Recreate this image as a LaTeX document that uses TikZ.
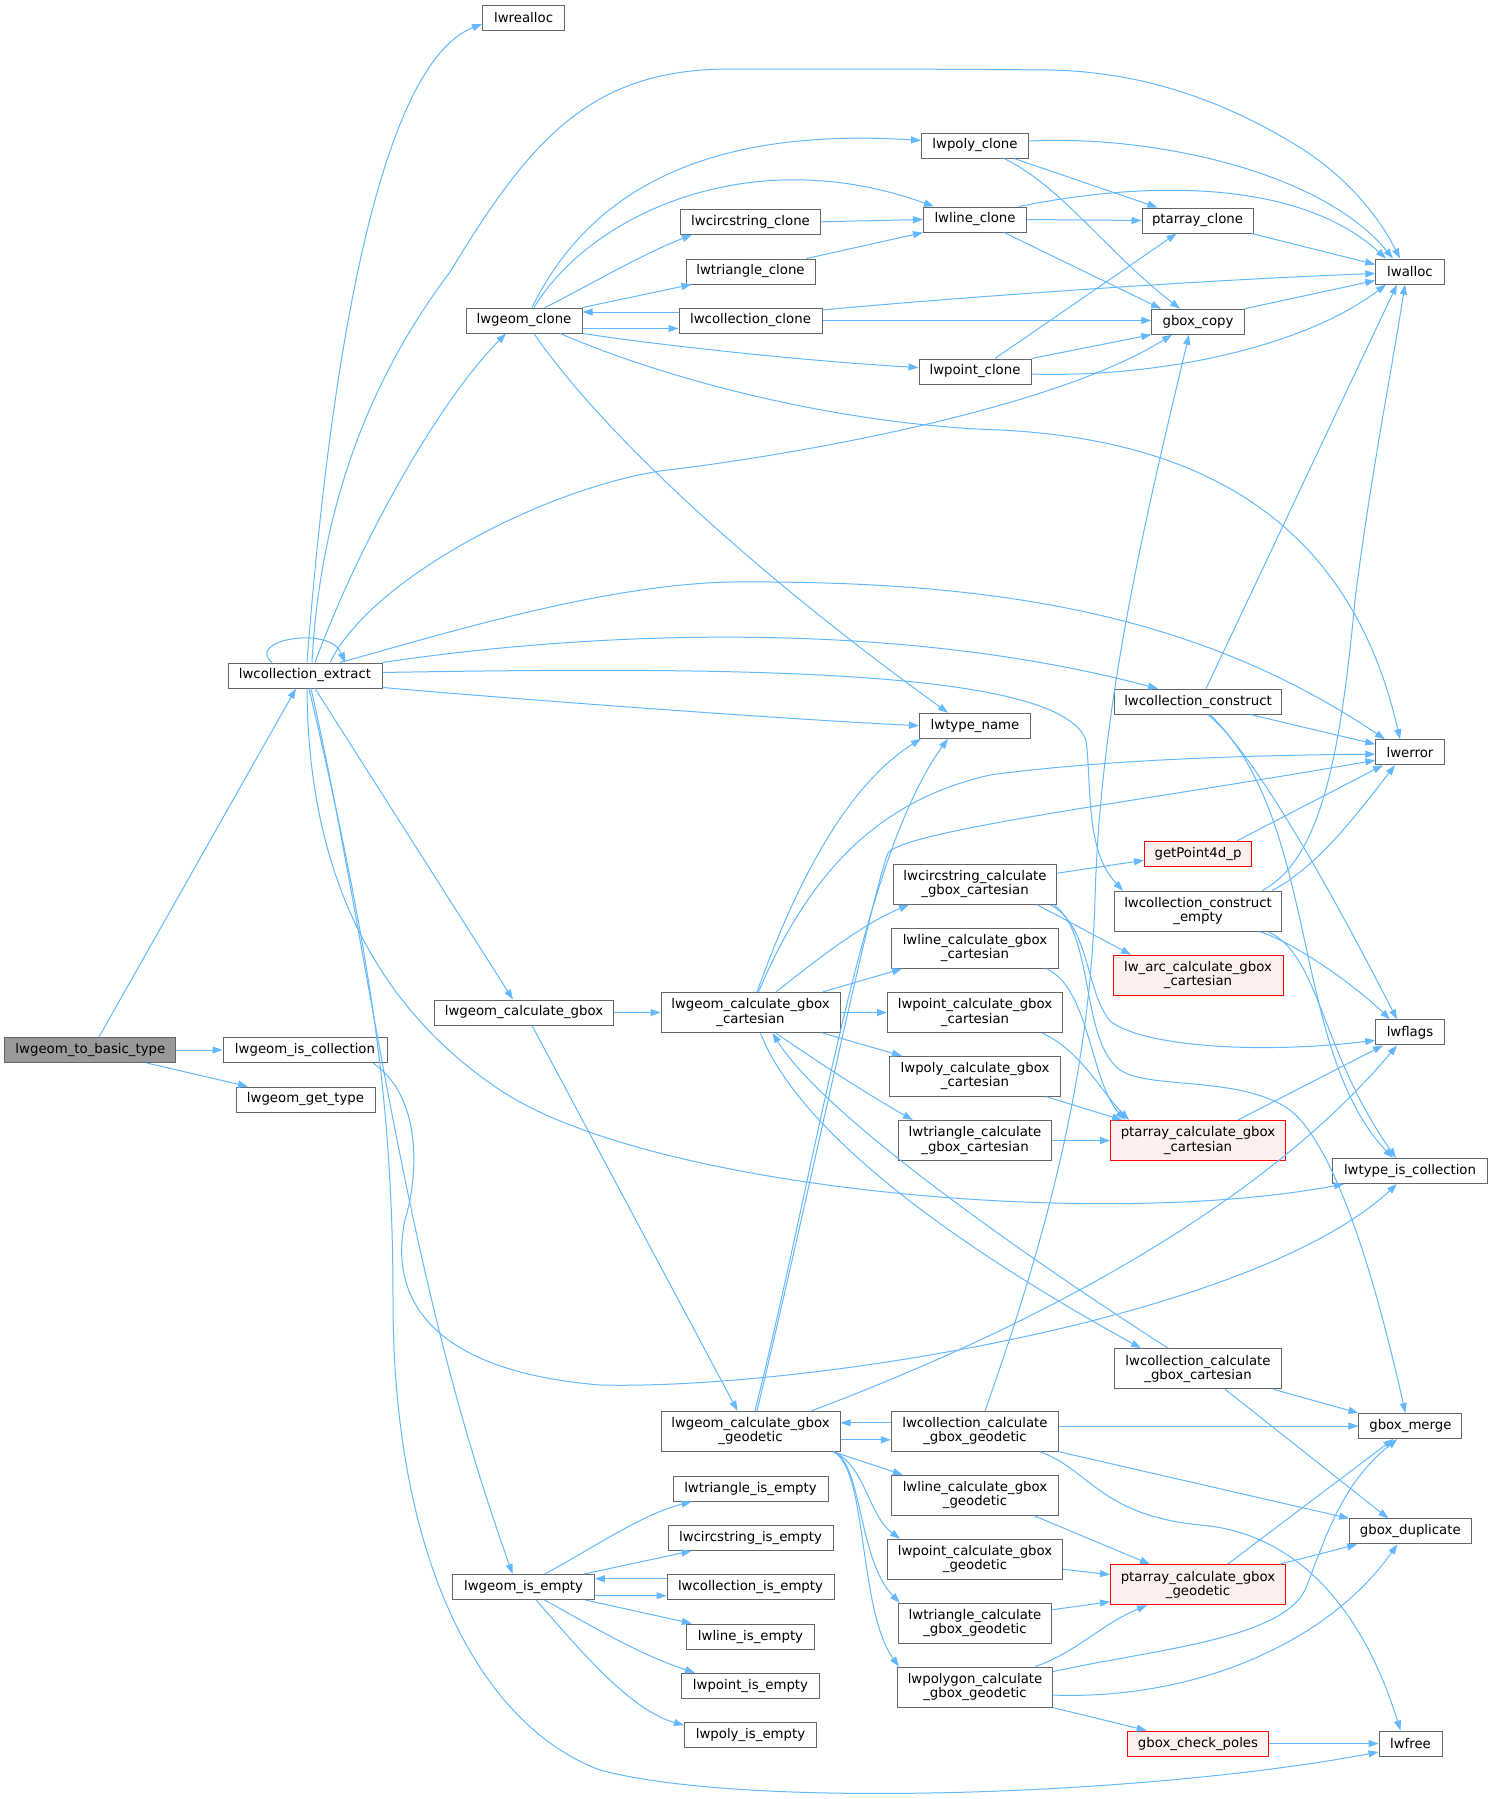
\documentclass[tikz,border=0pt]{standalone}
\usepackage{fontspec}
\setmainfont{DejaVu Sans}
\usetikzlibrary{arrows.meta,calc}
\definecolor{edgec}{HTML}{63B8FF}
\definecolor{bordc}{HTML}{666666}
\definecolor{rootf}{HTML}{999999}
\definecolor{redf}{HTML}{FFF0F0}
\begin{document}
\begin{tikzpicture}[x=1pt,y=-1pt,
 nd/.style={draw=bordc,line width=1pt,fill=white,inner sep=0pt,minimum height=25pt,align=center,font=\fontsize{13.3}{14.2}\selectfont},
 nd2/.style={nd,minimum height=40pt},
 redb/.style={draw=red,fill=redf},
 ar/.style={draw=edgec,line width=1pt,-{Triangle[length=10pt,width=7pt]}}]
\useasboundingbox (0,0) rectangle (1493,1799);
% nodes
\node[nd,fill=rootf,minimum width=171pt] (basic) at (90.4,1050) {lwgeom\_to\_basic\_type};
\node[nd,minimum width=164pt] (iscoll) at (305,1050) {lwgeom\_is\_collection};
\node[nd,minimum width=139pt] (gettype) at (305.5,1099.5) {lwgeom\_get\_type};
\node[nd,minimum width=154pt] (extract) at (305,675.5) {lwcollection\_extract};
\node[nd,minimum width=82pt] (realloc) at (523.6,17.5) {lwrealloc};
\node[nd,minimum width=116pt] (gclone) at (524,320.5) {lwgeom\_clone};
\node[nd,minimum width=107pt] (polyclone) at (975,145.5) {lwpoly\_clone};
\node[nd,minimum width=103pt] (lineclone) at (975,219.5) {lwline\_clone};
\node[nd,minimum width=140pt] (circclone) at (750.5,221.8) {lwcircstring\_clone};
\node[nd,minimum width=129pt] (triclone) at (750.5,271.5) {lwtriangle\_clone};
\node[nd,minimum width=143pt] (collclone) at (750.5,320.5) {lwcollection\_clone};
\node[nd,minimum width=112pt] (pointclone) at (975,371.5) {lwpoint\_clone};
\node[nd,minimum width=111pt] (ptclone) at (1197.5,220.5) {ptarray\_clone};
\node[nd,minimum width=68.5pt] (lwalloc) at (1410,271.5) {lwalloc};
\node[nd,minimum width=92.5pt] (gboxcopy) at (1198,321.7) {gbox\_copy};
\node[nd,minimum width=111pt] (typename) at (975,725.7) {lwtype\_name};
\node[nd,minimum width=179pt] (calcgbox) at (524,1012.5) {lwgeom\_calculate\_gbox};
\node[nd2,minimum width=179pt] (calccart) at (750.5,1012.5) {lwgeom\_calculate\_gbox\\\_cartesian};
\node[nd2,minimum width=163pt] (circcart) at (975,884.2) {lwcircstring\_calculate\\\_gbox\_cartesian};
\node[nd2,minimum width=167pt] (linecart) at (975,948.3) {lwline\_calculate\_gbox\\\_cartesian};
\node[nd2,minimum width=175pt] (pointcart) at (975,1012.5) {lwpoint\_calculate\_gbox\\\_cartesian};
\node[nd2,minimum width=171pt] (polycart) at (975,1076.4) {lwpoly\_calculate\_gbox\\\_cartesian};
\node[nd2,minimum width=153.5pt] (tricart) at (975,1140.5) {lwtriangle\_calculate\\\_gbox\_cartesian};
\node[nd,minimum width=167pt] (collconstruct) at (1198,701.7) {lwcollection\_construct};
\node[nd,minimum width=68.5pt] (lwerror) at (1410,752.2) {lwerror};
\node[nd,redb,minimum width=107pt] (getpoint) at (1198,853.8) {getPoint4d\_p};
\node[nd2,minimum width=167pt] (constructempty) at (1198,911.2) {lwcollection\_construct\\\_empty};
\node[nd2,redb,minimum width=170pt] (arccart) at (1198,975.2) {lw\_arc\_calculate\_gbox\\\_cartesian};
\node[nd,minimum width=68.5pt] (lwflags) at (1410,1032.4) {lwflags};
\node[nd2,redb,minimum width=175pt] (ptcart) at (1198,1140.5) {ptarray\_calculate\_gbox\\\_cartesian};
\node[nd,minimum width=155pt] (typeiscoll) at (1410,1171) {lwtype\_is\_collection};
\node[nd2,minimum width=179pt] (calcgeo) at (750.5,1431.3) {lwgeom\_calculate\_gbox\\\_geodetic};
\node[nd2,minimum width=167.5pt] (collgeo) at (975,1431.3) {lwcollection\_calculate\\\_gbox\_geodetic};
\node[nd2,minimum width=167.5pt] (linegeo) at (975,1495.3) {lwline\_calculate\_gbox\\\_geodetic};
\node[nd2,minimum width=175pt] (pointgeo) at (975,1559.2) {lwpoint\_calculate\_gbox\\\_geodetic};
\node[nd2,minimum width=153.5pt] (trigeo) at (975,1623.2) {lwtriangle\_calculate\\\_gbox\_geodetic};
\node[nd2,minimum width=155pt] (polygeo) at (975,1687.1) {lwpolygon\_calculate\\\_gbox\_geodetic};
\node[nd,minimum width=155pt] (triempty) at (750.5,1488.5) {lwtriangle\_is\_empty};
\node[nd,minimum width=165pt] (circempty) at (750.5,1537.9) {lwcircstring\_is\_empty};
\node[nd,minimum width=167pt] (collempty) at (750.5,1587) {lwcollection\_is\_empty};
\node[nd,minimum width=141.7pt] (isempty) at (523.6,1587) {lwgeom\_is\_empty};
\node[nd,minimum width=128.4pt] (lineempty) at (750.5,1636.5) {lwline\_is\_empty};
\node[nd,minimum width=138pt] (pointempty) at (750.5,1685.7) {lwpoint\_is\_empty};
\node[nd,minimum width=132pt] (polyempty) at (750.5,1735.2) {lwpoly\_is\_empty};
\node[nd2,minimum width=167pt] (collcart) at (1198,1368.7) {lwcollection\_calculate\\\_gbox\_cartesian};
\node[nd,minimum width=103pt] (gboxmerge) at (1410.4,1426) {gbox\_merge};
\node[nd,minimum width=121.4pt] (gboxdup) at (1410.3,1531.4) {gbox\_duplicate};
\node[nd2,redb,minimum width=175pt] (ptgeo) at (1198,1584.7) {ptarray\_calculate\_gbox\\\_geodetic};
\node[nd,redb,minimum width=141.6pt] (checkpoles) at (1198,1743.5) {gbox\_check\_poles};
\node[nd,minimum width=63pt] (lwfree) at (1410.5,1743.5) {lwfree};
% edges
\draw[ar] ($(basic.north)+(8.6,0)$) -- ($(extract.south)+(-9,0)$);
\draw[ar] (basic.east) -- (iscoll.west);
\draw[ar] ($(basic.south)+(56.3,0)$) -- ($(gettype.north)+(-57.5,0)$);
\draw[ar] ($(extract.north)+(-33,0)$) .. controls (245,640) and (330,625) .. ($(extract.north)+(40,0)$);
\draw[ar] ($(extract.north)+(2,0)$) .. controls (335,300) and (390,60) .. ($(realloc.west)+(0,6.5)$);
\draw[ar] ($(extract.north)+(7,0)$) .. controls (322,470) and (395,345) .. (450,272) .. controls (530,140) and (590,69) .. (730,69) .. controls (850,69) and (950,69) .. (1050,70) .. controls (1150,72) and (1230,105) .. (1296,145) .. controls (1345,175) and (1378,215) .. ($(lwalloc.north)+(-10,0)$);
\draw[ar] ($(extract.north)+(10,0)$) .. controls (360,540) and (440,400) .. ($(gclone.south)+(-18,0)$);
\draw[ar] ($(extract.north)+(25,0)$) .. controls (370,580) and (540,490) .. (660,471) .. controls (820,452) and (1060,405) .. ($(gboxcopy.south)+(-26,0)$);
\draw[ar] ($(extract.north)+(35,0)$) .. controls (440,635) and (600,585) .. (730,582) .. controls (1000,580) and (1200,615) .. ($(lwerror.north)+(-25,0)$);
\draw[ar] (extract.north east) .. controls (600,630) and (900,620) .. ($(collconstruct.north)+(-40,0)$);
\draw[ar] ($(extract.east)+(0,-3)$) .. controls (750,666) and (1060,670) .. (1086,740) .. controls (1092,790) and (1085,850) .. ($(constructempty.north)+(-75,0)$);
\draw[ar] ($(extract.east)+(0,12)$) .. controls (550,702) and (800,720) .. (typename.west);
\draw[ar] ($(extract.south)+(10,0)$) -- ($(calcgbox.north)+(-11,0)$);
\draw[ar] ($(extract.south)+(2,0)$) .. controls (308,880) and (380,1010) .. (500,1090) .. controls (650,1190) and (1100,1230) .. ($(typeiscoll.south west)+(12,0)$);
\draw[ar] ($(extract.south)+(6,0)$) .. controls (370,950) and (400,1260) .. ($(isempty.north)+(-11,0)$);
\draw[ar] ($(extract.south)+(4,0)$) .. controls (370,950) and (393,1100) .. (393,1300) .. controls (393,1560) and (480,1725) .. (600,1770) .. controls (750,1810) and (1150,1795) .. ($(lwfree.west)+(0,8.5)$);
\draw[ar] ($(iscoll.south)+(68,0)$) .. controls (420,1095) and (420,1170) .. (405,1220) .. controls (390,1290) and (420,1370) .. (600,1385) .. controls (800,1390) and (1250,1320) .. ($(typeiscoll.south)+(-13,0)$);
\draw[ar] ($(gclone.north)+(8,0)$) .. controls (580,210) and (680,125) .. ($(polyclone.west)+(0,-5)$);
\draw[ar] ($(gclone.north)+(10,0)$) .. controls (590,215) and (750,140) .. ($(lineclone.north)+(-41,0)$);
\draw[ar] ($(gclone.north)+(21,0)$) .. controls (590,285) and (640,255) .. ($(circclone.south west)+(12,0)$);
\draw[ar] (gclone.north east) -- ($(triclone.south west)+(6,0)$);
\draw[ar] ($(collclone.west)+(0,-8.5)$) -- ($(gclone.east)+(0,-8.5)$);
\draw[ar] ($(gclone.east)+(0,8)$) -- ($(collclone.west)+(0,8)$);
\draw[ar] (gclone.south east) .. controls (680,348) and (820,362) .. ($(pointclone.west)+(0,-4)$);
\draw[ar] ($(gclone.south)+(36,0)$) .. controls (680,385) and (850,425) .. (1000,430) .. controls (1200,440) and (1350,520) .. ($(lwerror.north)+(-10,0)$);
\draw[ar] ($(gclone.south)+(10,0)$) .. controls (600,430) and (750,570) .. ($(typename.north)+(-27,0)$);
\draw[ar] ($(collclone.east)+(0,-10.5)$) .. controls (950,298) and (1200,280) .. ($(lwalloc.west)+(0,2)$);
\draw[ar] (collclone.east) -- (collclone.east -| gboxcopy.west);
\draw[ar] (circclone.east) -- (lineclone.west);
\draw[ar] ($(triclone.north east)+(-9,0)$) -- (lineclone.south west);
\draw[ar] ($(polyclone.east)+(0,-4.5)$) .. controls (1150,135) and (1320,170) .. ($(lwalloc.north)+(-17,0)$);
\draw[ar] ($(polyclone.south)+(39,0)$) -- ($(ptclone.north)+(-40,0)$);
\draw[ar] ($(polyclone.south)+(29,0)$) .. controls (1060,185) and (1110,255) .. ($(gboxcopy.north)+(-18,0)$);
\draw[ar] ($(lineclone.north)+(44,0)$) .. controls (1150,180) and (1300,180) .. ($(lwalloc.north)+(-24,0)$);
\draw[ar] (lineclone.east) -- (ptclone.west);
\draw[ar] ($(lineclone.south)+(29,0)$) -- ($(gboxcopy.north)+(-37,0)$);
\draw[ar] ($(pointclone.north)+(20,0)$) -- ($(ptclone.south)+(-21,0)$);
\draw[ar] (pointclone.north east) -- (gboxcopy.south west);
\draw[ar] ($(pointclone.east)+(0,2.5)$) .. controls (1150,378) and (1300,350) .. ($(lwalloc.south)+(-24,0)$);
\draw[ar] ($(ptclone.south east)+(-2,0)$) -- ($(lwalloc.west)+(0,-7)$);
\draw[ar] (gboxcopy.north east) -- ($(lwalloc.west)+(0,9)$);
\draw[ar] ($(collconstruct.north)+(8,0)$) -- ($(lwalloc.south)+(-13,0)$);
\draw[ar] ($(collconstruct.south)+(53,0)$) -- ($(lwerror.west)+(0,-8)$);
\draw[ar] ($(collconstruct.south)+(10,0)$) .. controls (1240,740) and (1300,830) .. ($(lwflags.north)+(-13,0)$);
\draw[ar] ($(collconstruct.south)+(12,0)$) .. controls (1320,820) and (1290,1050) .. ($(typeiscoll.north)+(-17,0)$);
\draw[ar] ($(constructempty.north)+(64,0)$) .. controls (1320,860) and (1340,760) .. (1355,600) .. controls (1370,480) and (1390,380) .. ($(lwalloc.south)+(-5,0)$);
\draw[ar] ($(constructempty.north)+(74,0)$) .. controls (1320,865) and (1360,810) .. ($(lwerror.south)+(-15,0)$);
\draw[ar] ($(constructempty.south)+(62,0)$) .. controls (1300,945) and (1360,990) .. ($(lwflags.north)+(-20,0)$);
\draw[ar] ($(constructempty.south)+(70,0)$) .. controls (1320,955) and (1320,1050) .. ($(typeiscoll.north)+(-14,0)$);
\draw[ar] ($(getpoint.north)+(39,0)$) -- ($(lwerror.south)+(-27,0)$);
\draw[ar] (calcgbox.east) -- (calccart.west);
\draw[ar] ($(calcgbox.south)+(8,0)$) -- ($(calcgeo.north)+(-13,0)$);
\draw[ar] ($(calccart.north)+(6.5,0)$) .. controls (790,900) and (840,790) .. ($(typename.south west)+(2,0)$);
\draw[ar] ($(calccart.north)+(8,0)$) .. controls (810,870) and (880,800) .. (990,775) .. controls (1100,760) and (1250,755) .. ($(lwerror.west)+(0,2)$);
\draw[ar] ($(calccart.north)+(25.5,0)$) .. controls (810,965) and (860,925) .. ($(circcart.south west)+(16,0)$);
\draw[ar] ($(calccart.north east)+(-18,0)$) -- ($(linecart.south west)+(11,0)$);
\draw[ar] (calccart.east) -- (pointcart.west);
\draw[ar] ($(calccart.south east)+(-18,0)$) -- ($(polycart.north west)+(13,0)$);
\draw[ar] ($(calccart.south)+(25.5,0)$) .. controls (800,1050) and (860,1090) .. ($(tricart.north west)+(15,0)$);
\draw[ar] ($(calccart.south)+(10,0)$) .. controls (790,1110) and (900,1215) .. ($(collcart.north)+(-57,0)$);
\draw[ar] ($(collcart.north)+(-30,0)$) .. controls (1000,1240) and (820,1110) .. ($(calccart.south)+(22,0)$);
\draw[ar] ($(collcart.south east)+(-9,0)$) -- (gboxmerge.north west);
\draw[ar] ($(collcart.south)+(27,0)$) -- ($(gboxdup.north)+(-22,0)$);
\draw[ar] ($(circcart.east)+(0,-11)$) -- ($(getpoint.west)+(0,6.5)$);
\draw[ar] ($(circcart.south east)+(-20,0)$) -- ($(arccart.north)+(-67,0)$);
\draw[ar] ($(circcart.south east)+(-7,0)$) .. controls (1090,925) and (1085,990) .. (1110,1021) .. controls (1140,1045) and (1250,1055) .. ($(lwflags.west)+(0,8)$);
\draw[ar] ($(circcart.south east)+(-3,0)$) .. controls (1095,935) and (1080,1040) .. (1120,1070) .. controls (1150,1090) and (1240,1075) .. (1290,1110) .. controls (1340,1150) and (1380,1300) .. ($(gboxmerge.north)+(-5,0)$);
\draw[ar] ($(linecart.south east)+(-12,0)$) .. controls (1090,990) and (1090,1080) .. ($(ptcart.north west)+(15,0)$);
\draw[ar] ($(pointcart.south east)+(-21,0)$) .. controls (1080,1050) and (1100,1090) .. ($(ptcart.north west)+(19,0)$);
\draw[ar] ($(polycart.south east)+(-14,0)$) -- ($(ptcart.north west)+(12,0)$);
\draw[ar] (tricart.east) -- (ptcart.west);
\draw[ar] ($(ptcart.north east)+(-48,0)$) -- ($(lwflags.south)+(-27,0)$);
\draw[ar] ($(calcgeo.north)+(4.5,0)$) .. controls (820,1150) and (860,860) .. ($(typename.south)+(-27,0)$);
\draw[ar] ($(calcgeo.north)+(6.5,0)$) .. controls (810,1190) and (870,900) .. (888,853) .. controls (905,830) and (1150,800) .. ($(lwerror.west)+(0,8)$);
\draw[ar] ($(calcgeo.north east)+(-29,0)$) .. controls (1000,1340) and (1250,1220) .. ($(lwflags.south)+(-13,0)$);
\draw[ar] ($(calcgeo.east)+(0,8.5)$) -- ($(collgeo.west)+(0,8.5)$);
\draw[ar] ($(collgeo.west)+(0,-8.5)$) -- ($(calcgeo.east)+(0,-8.5)$);
\draw[ar] ($(calcgeo.south east)+(-7,0)$) -- ($(linegeo.north west)+(12,0)$);
\draw[ar] ($(calcgeo.south east)+(-7,0)$) .. controls (865,1465) and (868,1515) .. ($(pointgeo.north west)+(13,0)$);
\draw[ar] ($(calcgeo.south east)+(-7,0)$) .. controls (862,1462) and (858,1560) .. ($(trigeo.north west)+(2,0)$);
\draw[ar] ($(calcgeo.south east)+(-7,0)$) .. controls (868,1470) and (858,1610) .. ($(polygeo.north west)+(2,0)$);
\draw[ar] ($(collgeo.north)+(10,0)$) .. controls (1060,1200) and (1090,1050) .. (1095,900) .. controls (1100,700) and (1150,500) .. ($(gboxcopy.south)+(-9,0)$);
\draw[ar] ($(collgeo.east)+(0,-5.3)$) -- (gboxmerge.west);
\draw[ar] (collgeo.south east) -- (gboxdup.north west);
\draw[ar] ($(collgeo.south east)+(-19,0)$) .. controls (1090,1470) and (1100,1515) .. (1200,1525) .. controls (1290,1532) and (1360,1600) .. ($(lwfree.north)+(-10,0)$);
\draw[ar] ($(linegeo.south east)+(-25,0)$) -- ($(ptgeo.north west)+(40,0)$);
\draw[ar] ($(pointgeo.east)+(0,10)$) -- ($(ptgeo.west)+(0,-10)$);
\draw[ar] ($(trigeo.east)+(0,-13.5)$) -- ($(ptgeo.west)+(0,17)$);
\draw[ar] ($(polygeo.north east)+(-17.5,0)$) .. controls (1080,1650) and (1100,1625) .. ($(ptgeo.south west)+(37,0)$);
\draw[ar] ($(polygeo.east)+(0,-15.5)$) .. controls (1150,1650) and (1280,1640) .. (1305,1590) .. controls (1325,1540) and (1340,1485) .. ($(gboxmerge.south)+(-13,0)$);
\draw[ar] ($(polygeo.east)+(0,8)$) .. controls (1200,1700) and (1330,1640) .. ($(gboxdup.south)+(-13,0)$);
\draw[ar] (polygeo.south east) -- ($(checkpoles.north west)+(20,0)$);
\draw[ar] (checkpoles.east) -- (lwfree.west);
\draw[ar] ($(ptgeo.north east)+(-58.5,0)$) -- ($(gboxmerge.south)+(-17,0)$);
\draw[ar] ($(ptgeo.north east)+(-6.5,0)$) -- ($(gboxdup.south west)+(8,0)$);
\draw[ar] ($(isempty.north)+(21,0)$) .. controls (590,1550) and (640,1515) .. ($(triempty.south west)+(19,0)$);
\draw[ar] ($(isempty.north east)+(-11,0)$) -- ($(circempty.south west)+(24,0)$);
\draw[ar] ($(collempty.west)+(0,-8.3)$) -- ($(isempty.east)+(0,-8.3)$);
\draw[ar] ($(isempty.east)+(0,8.7)$) -- ($(collempty.west)+(0,8.7)$);
\draw[ar] ($(isempty.south east)+(-9.5,0)$) -- ($(lineempty.north west)+(6,0)$);
\draw[ar] ($(isempty.south)+(21,0)$) .. controls (590,1625) and (640,1655) .. ($(pointempty.north west)+(14,0)$);
\draw[ar] ($(isempty.south)+(12.5,0)$) .. controls (580,1650) and (630,1710) .. ($(polyempty.west)+(0,-10)$);
\end{tikzpicture}
\end{document}
